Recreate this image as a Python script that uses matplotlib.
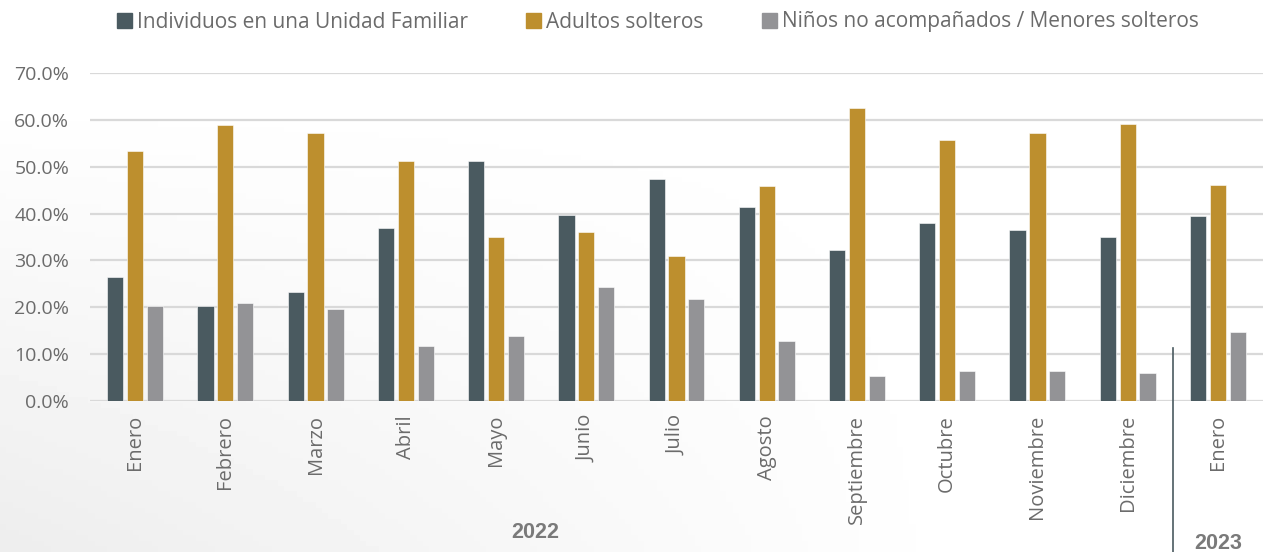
import numpy as np
import matplotlib.pyplot as plt
from matplotlib.patches import Patch

meses = ['Enero', 'Febrero', 'Marzo', 'Abril', 'Mayo', 'Junio', 'Julio',
         'Agosto', 'Septiembre', 'Octubre', 'Noviembre', 'Diciembre', 'Enero']
familia = [26.4, 20.3, 23.3, 37.0, 51.2, 39.8, 47.3, 41.3, 32.3, 38.0, 36.5, 35.1, 39.4]
adultos = [53.3, 58.8, 57.2, 51.3, 35.1, 36.1, 31.0, 45.9, 62.5, 55.8, 57.2, 59.1, 46.0]
menores = [20.3, 21.0, 19.7, 11.8, 13.9, 24.3, 21.8, 12.8, 5.4, 6.4, 6.4, 6.0, 14.8]
series_nombres = ['Individuos en una Unidad Familiar', 'Adultos solteros',
                  'Niños no acompañados / Menores solteros']
años = ['2022', '2023']

colores = ['#4a5a60', '#bd8f2e', '#939396']
texto = '#6b6b6b'

plt.rcParams['font.family'] = ['Open Sans', 'DejaVu Sans']

fig = plt.figure(figsize=(12.63, 5.52), dpi=100)
fig.patch.set_facecolor('white')

# faint grey wash in the lower left, like the background picture
fondo = fig.add_axes([0, 0, 1, 1], zorder=-5)
gx, gy = np.meshgrid(np.linspace(0, 1, 200), np.linspace(0, 1, 100))
lavado = np.clip(1.0 - 1.3 * gx, 0, 1) * np.clip(1.0 - 1.2 * gy, 0, 1)
fondo.imshow(1 - 0.07 * lavado, cmap='gray', vmin=0, vmax=1, aspect='auto',
             origin='lower', extent=[0, 1, 0, 1])
fondo.axis('off')

ax = fig.add_axes([90 / 1263, 151 / 552, 1173 / 1263, 328 / 552])
ax.set_facecolor('none')

x = np.arange(len(meses))
ancho = 0.18
paso = 0.22
for k, vals in enumerate([familia, adultos, menores]):
    ax.bar(x + (k - 1) * paso, vals, ancho, color=colores[k], zorder=3,
           edgecolor='white', linewidth=0.4)

ax.set_xlim(-0.5, len(meses) - 0.5)
ax.set_ylim(0, 70)
ax.set_yticks(np.arange(0, 71, 10))
ax.set_yticklabels([f'{v:.1f}%' for v in np.arange(0, 71, 10)])
ax.grid(axis='y', color='#d9d9d9', linewidth=1.6, zorder=0)
for s in ax.spines.values():
    s.set_visible(False)
ax.tick_params(axis='y', length=0, pad=15, labelsize=14, labelcolor=texto)
ax.set_xticks(x)
ax.set_xticklabels(meses, rotation=90, fontsize=14.5, color=texto)
ax.tick_params(axis='x', length=0, pad=10)

# separator between years
ax.plot([11.5, 11.5], [0.162, -0.47], color='#4a5a60', lw=1.2,
        transform=ax.get_xaxis_transform(), clip_on=False)
for xpos, ypos, etiqueta in [(4.43, -0.40, años[0]), (12, -0.435, años[1])]:
    ax.text(xpos, ypos, etiqueta, transform=ax.get_xaxis_transform(), ha='center',
            va='center', fontsize=15.5, fontweight='bold', color='#7a7a7a',
            family='Liberation Sans')

handles = [Patch(color=c) for c in colores]
fig.legend(handles, series_nombres, loc='center', bbox_to_anchor=(658 / 1263, 1 - 22 / 552),
           ncol=3, frameon=False, fontsize=15, labelcolor=texto,
           handlelength=0.7, handleheight=0.7, handletextpad=0.25, columnspacing=2.8)

fig.savefig('out.png', dpi=100)
